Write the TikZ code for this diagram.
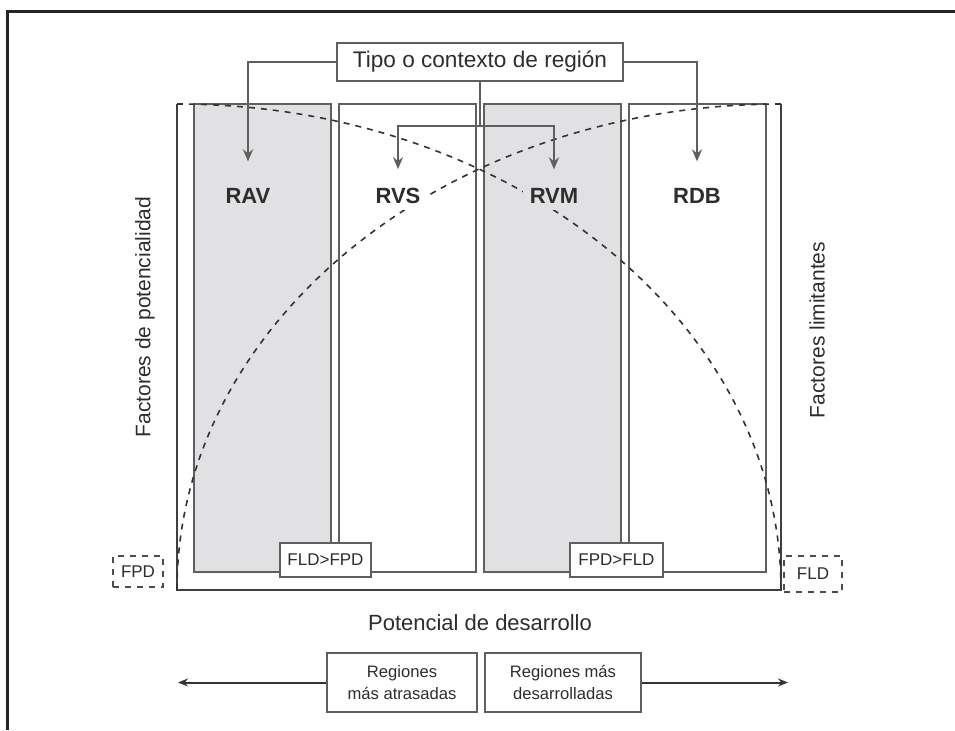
\documentclass[tikz,border=0pt]{standalone}
\usepackage{fontspec}
\setmainfont{Liberation Sans}
\usetikzlibrary{arrows.meta, positioning}
\definecolor{colgris}{RGB}{225,225,228}
\definecolor{lineagris}{RGB}{95,95,95}
\definecolor{textogris}{RGB}{45,45,45}
\tikzstyle{arrow} = [line width=1pt, draw=lineagris, -{Stealth[length=6pt,width=5pt]}]
\tikzstyle{arrow_B} = [line width=1pt, draw=black!80, -{Stealth[length=5pt,width=4pt]}]
\tikzstyle{columna} = [
rectangle, draw=lineagris, line width=1pt, minimum width=68.5pt,
minimum height=234pt, inner sep=0pt
]
\tikzstyle{columna_G} = [columna, fill=colgris]
\tikzstyle{etiqueta} = [fill=white, font=\fontsize{11}{13}\selectfont\bfseries, text=textogris]
\tikzstyle{etiqueta_G} = [etiqueta, fill=colgris]
\tikzstyle{caja} = [
rectangle, draw=lineagris, line width=1pt, fill=white, align=center,
text=textogris, font=\fontsize{8.5}{10}\selectfont
]
\tikzstyle{caja_D} = [
rectangle, draw=black!70, dashed, line width=0.8pt, fill=white,
text=textogris, font=\fontsize{8.5}{10}\selectfont
]
\tikzstyle{texto} = [text=textogris, font=\fontsize{10.5}{12}\selectfont]

\begin{document}
\begin{tikzpicture}[x=0.5pt, y=-0.5pt]
			\useasboundingbox (0,0) rectangle (955,730);
			\draw [line width=1.5pt, black!85] (7,730) -- (7,11) -- (955,11);

			% Nodes de regiones
			\node (RAV) [columna_G] at (262,338) {};
			\node (RVS) [columna] at (407.5,338) {};
			\node (RVM) [columna_G] at (552.5,338) {};
			\node (RDB) [columna] at (697.5,338) {};

			% Marco y curvas
			\draw [line width=1.2pt, black!75] (177,104) -- (177,590) -- (781,590) -- (781,104);
			\draw [dashed, line width=0.8pt, black!80] (177,104) .. controls (510.6,104) and (781,321.6) .. (781,590);
			\draw [dashed, line width=0.8pt, black!80] (781,104) .. controls (447.4,104) and (177,321.6) .. (177,590);

			% Nodes de texto
			\node (lRAV) [etiqueta_G] at (248,196) {RAV};
			\node (lRVS) [etiqueta] at (398,196) {RVS};
			\node (lRVM) [etiqueta_G] at (554,196) {RVM};
			\node (lRDB) [etiqueta] at (697,196) {RDB};
			\node (tipo) [caja, minimum width=143pt, minimum height=19pt, font=\fontsize{11.3}{13}\selectfont] at (480,62) {Tipo o contexto de región};
			\node (FLDFPD) [caja, minimum width=45.5pt, minimum height=17pt] at (325.5,560) {FLD>FPD};
			\node (FPDFLD) [caja, minimum width=46.5pt, minimum height=17pt] at (616.5,560) {FPD>FLD};
			\node (FPD) [caja_D, minimum width=25pt, minimum height=15.5pt] at (138,571.5) {FPD};
			\node (FLD) [caja_D, minimum width=29pt, minimum height=18pt] at (813,574) {FLD};
			\node (potencialidad) [texto, rotate=90] at (145,317) {Factores de potencialidad};
			\node (limitantes) [texto, rotate=90] at (817,330) {Factores limitantes};
			\node (potencial) [texto, font=\fontsize{11}{13}\selectfont] at (480,623) {Potencial de desarrollo};
			\node (atrasadas) [caja, minimum width=75pt, minimum height=29.5pt, font=\fontsize{8.3}{11}\selectfont] at (402,682.5) {Regiones\\más atrasadas};
			\node (desarrolladas) [caja, minimum width=78pt, minimum height=29.5pt, font=\fontsize{8.3}{11}\selectfont] at (563,682.5) {Regiones más\\desarrolladas};

			% Connections
			\coordinate (split) at (480,126);
			\coordinate (izq) at (178,682.5);
			\coordinate (der) at (788,682.5);
			\draw [arrow, shorten >=10pt] (tipo.west) -| (lRAV);
			\draw [arrow, shorten >=10pt] (tipo.east) -| (lRDB);
			\draw [line width=1pt, lineagris] (tipo.south) -- (split);
			\draw [arrow, shorten >=6pt] (split) -| (lRVS);
			\draw [arrow, shorten >=6pt] (split) -| (lRVM);
			\draw [arrow_B] (atrasadas) -- (izq);
			\draw [arrow_B] (desarrolladas) -- (der);

		\end{tikzpicture}
\end{document}
